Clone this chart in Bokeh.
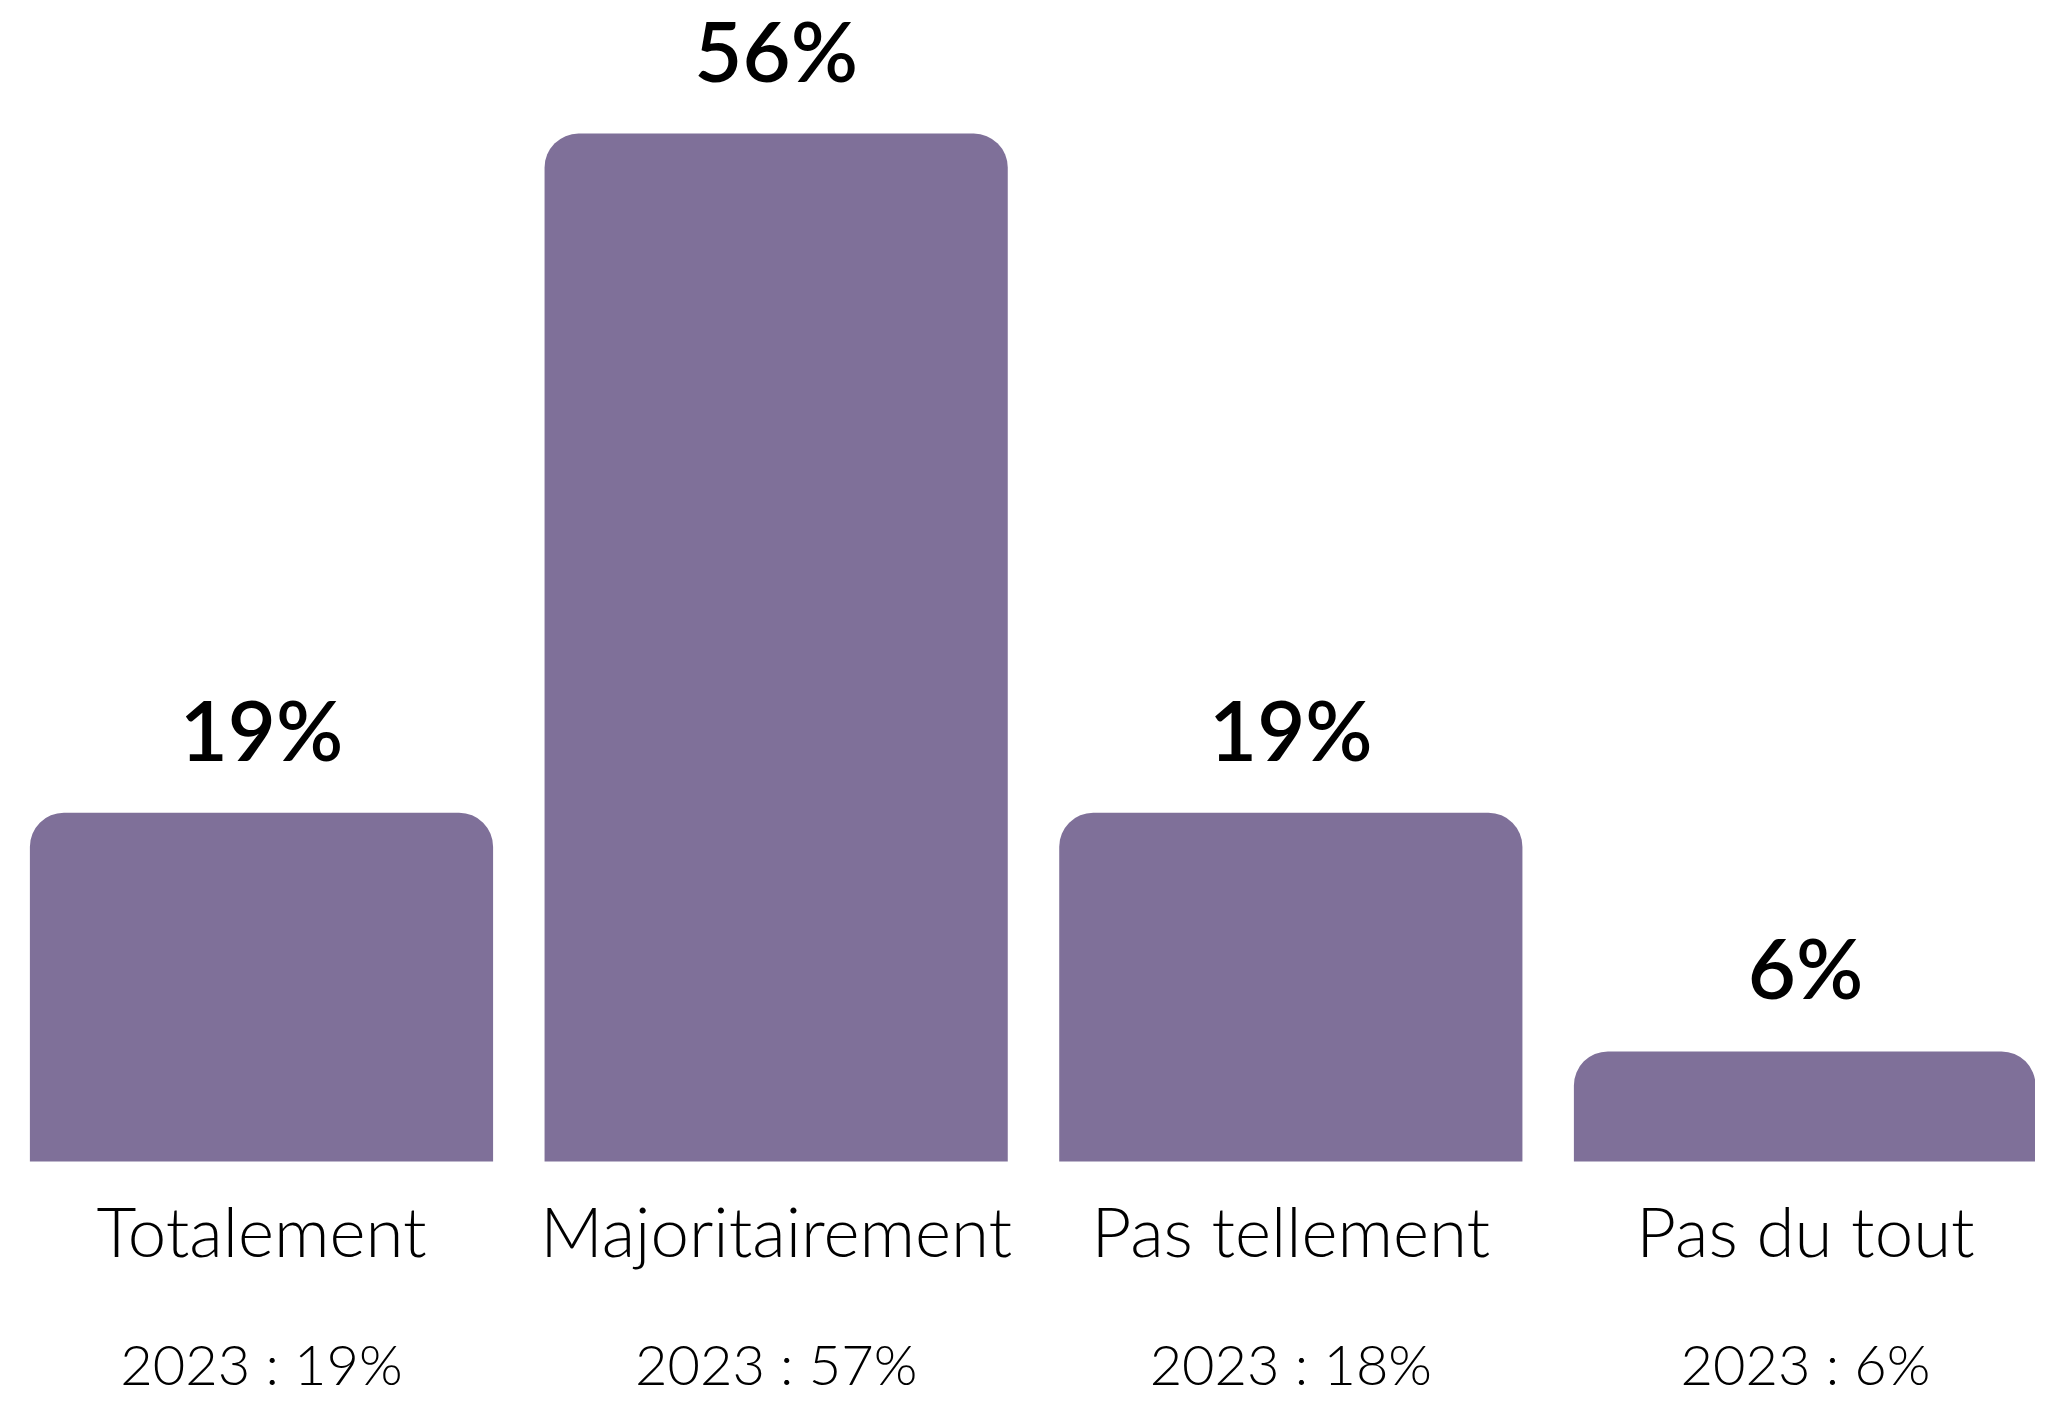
from bokeh.plotting import figure
from bokeh.models import Range1d, ColumnDataSource
from bokeh.core.properties import value
from bokeh.embed import file_html
from bokeh.resources import INLINE

categories = ["Totalement", "Majoritairement", "Pas tellement", "Pas du tout"]
values_2024 = [19, 56, 19, 6]
values_2023 = [19, 57, 18, 6]

value_labels = [f"{v}%" for v in values_2024]
prev_labels = [f"2023 : {v}%" for v in values_2023]
xs = list(range(len(categories)))

src = ColumnDataSource(dict(x=xs, top=values_2024, cat=categories,
                            vlab=value_labels, plab=prev_labels,
                            zero=[0] * len(xs)))

W, H = 2035, 1396
p = figure(width=W, height=H,
           x_range=Range1d(-0.5071, 3.4469),
           y_range=Range1d(-12.80, 63.25),
           output_backend="svg", toolbar_location=None, min_border=0)
p.axis.visible = False
p.grid.visible = False
p.outline_line_color = None
p.background_fill_color = "white"
p.border_fill_color = "white"

p.vbar(x="x", top="top", bottom=0, width=0.9, source=src,
       fill_color="#7F7099", line_color=None, border_radius=(34, 34, 0, 0))

p.text(x="x", y="top", text="vlab", source=src, text_align="center",
       text_baseline="alphabetic", y_offset=-84, text_font_size="83px",
       text_font=value("Lato Semibold"), text_color="black")

p.text(x="x", y="zero", text="cat", source=src, text_align="center",
       text_baseline="alphabetic", y_offset=69, text_font_size="69px",
       text_font=value("Lato Light"), text_color="black")

p.text(x="x", y="zero", text="plab", source=src, text_align="center",
       text_baseline="alphabetic", y_offset=202, text_font_size="56px",
       text_font=value("Lato Light"), text_color="black")

open("out.html", "w").write(file_html(p, INLINE))
